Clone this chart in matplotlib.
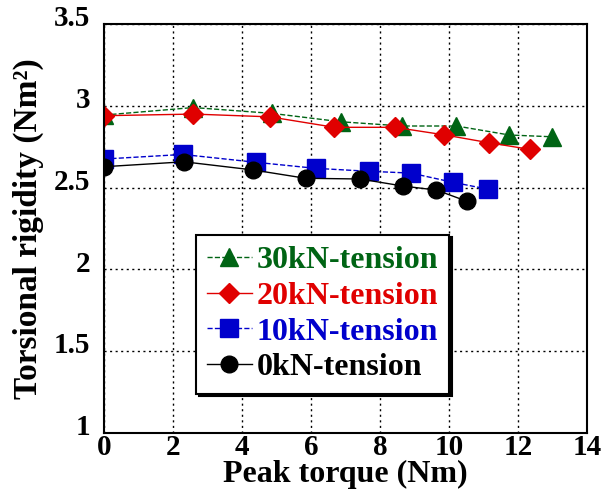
import matplotlib
matplotlib.use("Agg")
import matplotlib.pyplot as plt
import matplotlib.transforms as mtransforms

plt.rcParams["font.family"] = ["Liberation Serif", "DejaVu Serif"]
plt.rcParams["font.weight"] = "bold"

# Peak torque (Nm) and torsional rigidity (Nm^2) per tension level
x_30 = [0.0, 2.59, 4.88, 6.86, 8.65, 10.22, 11.75, 13.0]
y_30 = [2.944, 2.99, 2.954, 2.903, 2.877, 2.877, 2.822, 2.811]
x_20 = [0.0, 2.59, 4.81, 6.68, 8.43, 9.86, 11.15, 12.35]
y_20 = [2.94, 2.95, 2.933, 2.869, 2.869, 2.823, 2.775, 2.734]
x_10 = [0.0, 2.28, 4.40, 6.14, 7.68, 8.90, 10.13, 11.12]
y_10 = [2.675, 2.703, 2.655, 2.618, 2.60, 2.589, 2.532, 2.491]
x_0 = [0.0, 2.32, 4.33, 5.85, 7.42, 8.66, 9.64, 10.53]
y_0 = [2.628, 2.658, 2.608, 2.557, 2.553, 2.51, 2.485, 2.416]

xticks = [0, 2, 4, 6, 8, 10, 12, 14]
yticks = [1, 1.5, 2, 2.5, 3, 3.5]
ytick_labels = ["1", "1.5", "2", "2.5", "3", "3.5"]

green = "#006414"
red = "#e00000"
blue = "#0000cc"

fig = plt.figure(figsize=(6.05, 4.93), dpi=100)
ax = fig.add_axes([0.172, 0.122, 0.798, 0.829])

ax.plot(x_30, y_30, "--", color=green, lw=1, marker="^", ms=13, label="30kN-tension")
ax.plot(x_20, y_20, "-", color=red, lw=1, marker="D", ms=10, label="20kN-tension")
ax.plot(x_10, y_10, "--", color=blue, lw=1, marker="s", ms=13, label="10kN-tension")
ax.plot(x_0, y_0, "-", color="black", lw=1, marker="o", ms=12, label="0kN-tension")

ax.set_xlim(0, 14)
ax.set_ylim(1, 3.5)
ax.set_xticks(xticks)
ax.set_yticks(yticks)
ax.set_yticklabels(ytick_labels)
ax.tick_params(axis="x", labelsize=21, length=0, pad=1)
ax.tick_params(axis="y", labelsize=21, length=0, pad=10)
# y tick labels sit a little above their grid line
up = mtransforms.ScaledTranslation(0, 6 / 72, fig.dpi_scale_trans)
for lab in ax.get_yticklabels():
    lab.set_transform(lab.get_transform() + up)
ax.grid(True, color="black", linestyle=(0, (1.5, 2.5)), linewidth=1)
for s in ax.spines.values():
    s.set_linewidth(1.5)

ax.set_xlabel("Peak torque (Nm)", fontsize=23, fontweight="bold", labelpad=-1)
ax.set_ylabel("Torsional rigidity (Nm²)", fontsize=24, fontweight="bold")
ax.yaxis.set_label_coords(-0.125, 0.5)

leg = ax.legend(loc="upper left", bbox_to_anchor=(0.19, 0.485), fontsize=23,
                frameon=True, fancybox=False, shadow={"color": "black", "alpha": 1},
                handlelength=1.4, handletextpad=0.15, labelspacing=0.2,
                borderpad=0.35, borderaxespad=0)
leg.get_frame().set_edgecolor("black")
leg.get_frame().set_linewidth(1.5)
for txt, c in zip(leg.get_texts(), [green, red, blue, "black"]):
    txt.set_color(c)
    txt.set_fontweight("bold")

plt.savefig("out.png", dpi=100)
plt.close()
